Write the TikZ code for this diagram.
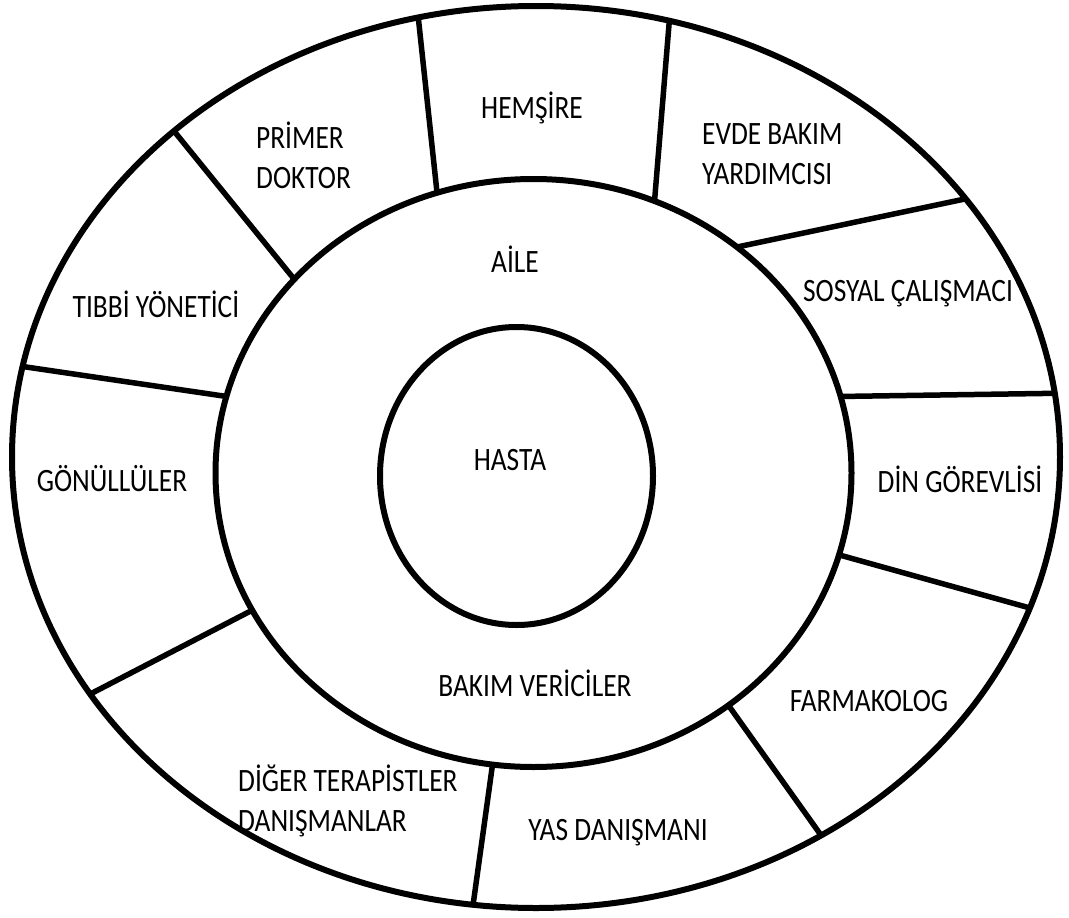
\documentclass[tikz,border=0pt]{standalone}
\usepackage{fontspec}
\setmainfont{Carlito}[FakeStretch=0.84]
\usetikzlibrary{shapes.geometric}
\tikzset{ring/.style={ellipse,draw,line width=6pt,inner sep=0pt,outer sep=0pt},
spoke/.style={line width=5.5pt},
lbl/.style={font=\fontsize{32.6}{40}\selectfont,inner sep=0pt,anchor=base},
lbltwo/.style={lbl,align=left,anchor=base west}}
\begin{document}
\begin{tikzpicture}[x=1pt,y=-1pt]
\useasboundingbox (0,0) rectangle (1069,918);
% rings
\node[ring,minimum width=1048pt,minimum height=902pt](outer) at (536,457){};
\node[ring,minimum width=636pt,minimum height=588pt](mid) at (533.5,473){};
\node[ring,minimum width=273pt,minimum height=298pt](core) at (516.5,476){};
% dividers of the outer ring
\foreach \a/\b in {109.9/105.8,66.7/73.0,48.4/31.0,14.1/7.8,-15.6/-17.9,
-50.1/-53.4,262.2/262.8,206.4/208.0,166.4/170.6,141.4/138.1}
  \draw[spoke](mid.\a)--(outer.\b);
% labels
\node[lbl](hasta) at (510,470){HASTA};
\node[lbl](aile) at (515,272){AİLE};
\node[lbl](bakim) at (535,696){BAKIM VERİCİLER};
\node[lbl](hemsire) at (532,118){HEMŞİRE};
\node[lbltwo](primer) at (256,188){PRİMER\\DOKTOR};
\node[lbl](tibbi) at (156,317){TIBBİ YÖNETİCİ};
\node[lbltwo](evde) at (702,184){EVDE BAKIM\\YARDIMCISI};
\node[lbl](sosyal) at (908,301){SOSYAL ÇALIŞMACI};
\node[lbl](din) at (960,492){DİN GÖREVLİSİ};
\node[lbl](farma) at (869,711){FARMAKOLOG};
\node[lbl](yas) at (618,840){YAS DANIŞMANI};
\node[lbltwo](diger) at (238,831){DİĞER TERAPİSTLER\\DANIŞMANLAR};
\node[lbl](gonullu) at (112,491){GÖNÜLLÜLER};
\end{tikzpicture}
\end{document}
